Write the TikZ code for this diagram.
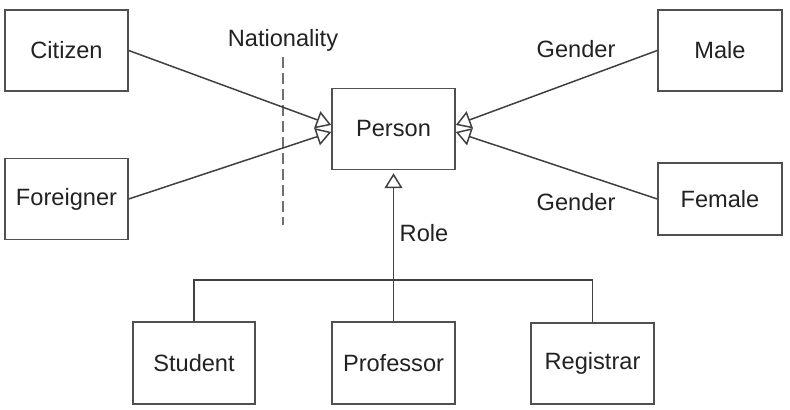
\documentclass[tikz,border=0pt]{standalone}
\usepackage{fontspec}
\setmainfont{Liberation Sans}
\usetikzlibrary{arrows.meta}
\definecolor{linec}{HTML}{404040}
\definecolor{boxc}{HTML}{505050}
\definecolor{dashc}{HTML}{707070}
\definecolor{textc}{HTML}{222222}
\begin{document}
\begin{tikzpicture}[x=0.5pt,y=-0.5pt,
  font=\fontsize{11.8}{13}\selectfont, text=textc,
  cls/.style={draw=boxc, line width=0.75pt, inner sep=0pt, minimum width=61.5pt, minimum height=40.5pt},
  conn/.style={draw=linec, line width=0.75pt},
  gen/.style={conn, -{Triangle[open, length=7.5pt, width=9pt]}},
  lbl/.style={inner sep=0pt}]
\useasboundingbox (0,0) rectangle (790,410);
\node[cls] (citizen) at (66.5,50.5) {Citizen};
\node[cls] (foreigner) at (66.5,199) {Foreigner};
\node[cls] (person) at (393.5,129) {Person};
\node[cls, minimum width=62pt] (male) at (720,50.5) {Male};
\node[cls, minimum width=62pt, minimum height=36pt] (female) at (720,199) {Female};
\node[cls, minimum width=61pt, minimum height=41pt] (student) at (194,363) {Student};
\node[cls, minimum height=41pt] (professor) at (393.5,363) {Professor};
\node[cls, minimum height=40.5pt] (registrar) at (592.5,363.5) {Registrar};
\coordinate (bus) at (393.5,280);
\coordinate (dtop) at (283,57);
\coordinate (dbot) at (283,225);
\draw[draw=dashc, line width=0.6pt, dash pattern=on 5.5pt off 2.5pt] (dtop) -- (dbot);
\node[lbl] (nat) at (283,40) {Nationality};
\node[lbl] (g1) at (576,49) {Gender};
\node[lbl] (g2) at (576,202) {Gender};
\node[lbl] (role) at (424,233) {Role};
\draw[gen] (citizen.east) -- ([yshift=2pt]person.west);
\draw[gen] (foreigner.east) -- ([yshift=-1.5pt]person.west);
\draw[gen] (male.west) -- ([yshift=2pt]person.east);
\draw[gen] (female.west) -- ([yshift=-1.5pt]person.east);
\draw[gen] (professor.north) -- ([yshift=-1.5pt]person.south);
\draw[conn] (student.north) |- (bus) -| (registrar.north);
\end{tikzpicture}
\end{document}
